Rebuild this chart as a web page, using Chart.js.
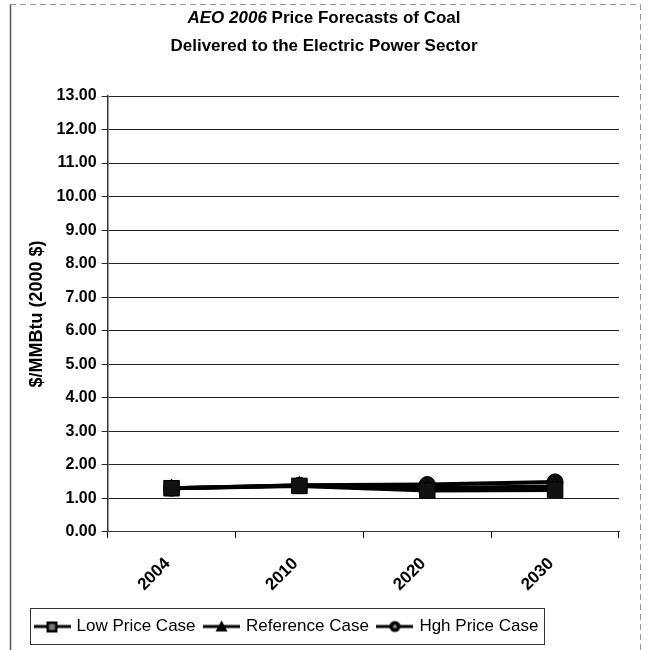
<!DOCTYPE html>
<html>
<head>
<meta charset="utf-8">
<script src="https://cdn.jsdelivr.net/npm/chart.js@4.4.1/dist/chart.umd.min.js"></script>
<style>
  body { margin: 0; background: #fff; }
  #wrap { width: 649px; height: 650px; }
</style>
</head>
<body>
<div id="wrap"><canvas id="coalChart" width="649" height="650"></canvas></div>
<script>
  // values ($/MMBtu, 2000 $)
  const years = ['2004', '2010', '2020', '2030'];
  const lowPrice = [1.30, 1.37, 1.23, 1.25];
  const refPrice = [1.30, 1.38, 1.31, 1.35];
  const highPrice = [1.30, 1.39, 1.41, 1.49];
  const seriesNames = ['Low Price Case', 'Reference Case', 'Hgh Price Case'];
  const yTicks = [0, 1, 2, 3, 4, 5, 6, 7, 8, 9, 10, 11, 12, 13];

  const FONT = "'Liberation Sans', Arial, sans-serif";

  // little line+marker pictures for the legend, Excel style
  function legendIcon(style) {
    const c = document.createElement('canvas');
    c.width = 37; c.height = 14;
    const g = c.getContext('2d');
    g.strokeStyle = '#000';
    g.lineWidth = 3;
    g.beginPath(); g.moveTo(0, 7); g.lineTo(37, 7); g.stroke();
    g.fillStyle = '#000';
    if (style === 'rect') {
      g.fillRect(13, 2, 11, 11);
      g.fillStyle = '#777'; g.fillRect(15.5, 4.5, 6, 6);
    } else if (style === 'triangle') {
      g.beginPath(); g.moveTo(18.5, 1); g.lineTo(24.5, 12); g.lineTo(12.5, 12); g.closePath(); g.fill();
    } else {
      g.beginPath(); g.arc(18.5, 7, 5.5, 0, Math.PI * 2); g.fill();
      g.fillStyle = '#888'; g.beginPath(); g.arc(18.5, 7, 2, 0, Math.PI * 2); g.fill();
    }
    return c;
  }

  const pageDecor = {
    id: 'pageDecor',
    beforeDraw(chart) {
      const ctx = chart.ctx;
      ctx.save();
      ctx.fillStyle = '#fff';
      ctx.fillRect(0, 0, chart.width, chart.height);
      ctx.strokeStyle = '#555';
      ctx.lineWidth = 1.5;
      ctx.beginPath(); ctx.moveTo(10.5, 4); ctx.lineTo(10.5, 650); ctx.stroke();
      ctx.strokeStyle = '#999';
      ctx.lineWidth = 1;
      ctx.setLineDash([6, 4]);
      ctx.beginPath(); ctx.moveTo(10, 4.5); ctx.lineTo(640.5, 4.5); ctx.lineTo(640.5, 650); ctx.stroke();
      ctx.restore();
    },
    afterDraw(chart) {
      const ctx = chart.ctx;
      ctx.save();
      ctx.fillStyle = '#000';
      ctx.textBaseline = 'middle';
      // title, first words in italics
      const a = 'AEO 2006';
      const b = ' Price Forecasts of Coal';
      ctx.font = 'italic bold 17px ' + FONT;
      const wa = ctx.measureText(a).width;
      ctx.font = 'bold 17px ' + FONT;
      const wb = ctx.measureText(b).width;
      const cx = 324;
      const x0 = cx - (wa + wb) / 2;
      ctx.textAlign = 'left';
      ctx.font = 'italic bold 17px ' + FONT;
      ctx.fillText(a, x0, 18);
      ctx.font = 'bold 17px ' + FONT;
      ctx.fillText(b, x0 + wa, 18);
      ctx.textAlign = 'center';
      ctx.fillText('Delivered to the Electric Power Sector', cx, 46);
      // box around the legend items
      const lg = chart.legend;
      const hb = lg.legendHitBoxes;
      const last = hb[hb.length - 1];
      const bl = Math.round(hb[0].left) - 6;
      const br = Math.round(last.left + last.width) + 6;
      ctx.strokeStyle = '#333';
      ctx.lineWidth = 1;
      ctx.strokeRect(bl + 0.5, Math.round(lg.top) + 0.5, br - bl, Math.round(lg.height) - 1);
      ctx.restore();
    }
  };

  const mk = (label, data, style, radius) => ({
    label: label,
    data: data,
    borderColor: '#000',
    backgroundColor: '#000',
    borderWidth: 4,
    pointStyle: style,
    pointRadius: radius,
    pointBorderWidth: 1,
    pointBackgroundColor: '#111',
    pointBorderColor: '#000',
    tension: 0
  });

  new Chart('coalChart', {
    type: 'line',
    data: {
      labels: years,
      datasets: [
        mk(seriesNames[0], lowPrice, 'rect', 11),
        mk(seriesNames[1], refPrice, 'triangle', 9),
        mk(seriesNames[2], highPrice, 'circle', 8)
      ]
    },
    plugins: [pageDecor],
    options: {
      responsive: false,
      animation: false,
      layout: { padding: { top: 96, left: 26, right: 30, bottom: 5 } },
      plugins: {
        title: { display: false },
        tooltip: { enabled: false },
        legend: {
          position: 'bottom',
          align: 'start',
          labels: {
            usePointStyle: true,
            pointStyleWidth: 32,
            color: '#000',
            font: { family: FONT, size: 17 },
            padding: 10,
            generateLabels(chart) {
              const styles = ['rect', 'triangle', 'circle'];
              return chart.data.datasets.map((d, i) => ({
                text: d.label,
                pointStyle: legendIcon(styles[i]),
                fillStyle: '#000',
                strokeStyle: '#000',
                lineWidth: 0,
                hidden: false,
                datasetIndex: i,
                fontColor: '#000'
              }));
            }
          }
        }
      },
      scales: {
        x: {
          offset: true,
          grid: { offset: true, drawOnChartArea: false, drawTicks: true, tickLength: 6, color: '#000' },
          border: { color: '#333', width: 1 },
          afterFit(axis) { axis.height -= 3; },
          ticks: {
            color: '#000',
            font: { family: FONT, size: 17, weight: 'bold' },
            maxRotation: 45,
            minRotation: 45,
            labelOffset: -4,
            padding: 16
          }
        },
        y: {
          min: 0,
          max: 13,
          afterBuildTicks(axis) { axis.ticks = yTicks.map(v => ({ value: v })); },
          grid: { color: '#222', lineWidth: 1, tickLength: 6 },
          border: { color: '#333', width: 1.5 },
          ticks: {
            color: '#000',
            padding: 5,
            font: { family: FONT, size: 16, weight: 'bold' },
            callback: v => Number(v).toFixed(2)
          },
          title: {
            display: true,
            text: '$/MMBtu (2000 $)',
            color: '#000',
            font: { family: FONT, size: 18, weight: 'bold' },
            padding: { top: 0, bottom: 4 }
          }
        }
      }
    }
  });
</script>
</body>
</html>
